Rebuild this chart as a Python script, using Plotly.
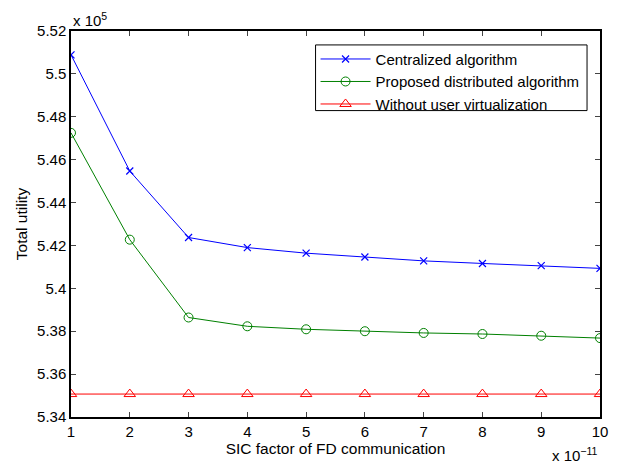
import plotly.graph_objects as go

x_vals = [1, 2, 3, 4, 5, 6, 7, 8, 9, 10]
centralized = [5.5089, 5.4547, 5.4237, 5.4190, 5.4164, 5.4146, 5.4128, 5.4116, 5.4106, 5.4093]
distributed = [5.4725, 5.4227, 5.3864, 5.3823, 5.3809, 5.3800, 5.3792, 5.3787, 5.3779, 5.3768]
without_virt = [5.3507] * 10
names = ["Centralized algorithm", "Proposed distributed algorithm", "Without user virtualization"]
y_ticks = [5.34, 5.36, 5.38, 5.40, 5.42, 5.44, 5.46, 5.48, 5.50, 5.52]
y_tick_text = ["5.34", "5.36", "5.38", "5.4", "5.42", "5.44", "5.46", "5.48", "5.5", "5.52"]

FONT = "Liberation Sans, Arial, Helvetica, sans-serif"

fig = go.Figure()
fig.add_trace(go.Scatter(x=x_vals, y=centralized, name=names[0], mode="lines+markers",
                         line=dict(color="#0000FF", width=1),
                         marker=dict(symbol="x-thin-open", size=7, line=dict(color="#0000FF", width=1.2))))
fig.add_trace(go.Scatter(x=x_vals, y=distributed, name=names[1], mode="lines+markers",
                         line=dict(color="#008000", width=1),
                         marker=dict(symbol="circle-open", size=9, color="#008000", line=dict(width=1))))
fig.add_trace(go.Scatter(x=x_vals, y=without_virt, name=names[2], mode="lines+markers",
                         line=dict(color="#FF0000", width=1),
                         marker=dict(symbol="triangle-up-open", size=10, color="#FF0000", line=dict(width=1))))

# page body has an 8px default margin, so the figure is made 8px smaller and margins shifted
fig.update_layout(
    width=614, height=458,
    margin=dict(l=62, r=22, t=23, b=47),
    paper_bgcolor="white", plot_bgcolor="white",
    font=dict(family=FONT, size=15, color="black"),
    showlegend=True,
    legend=dict(x=0.4623, y=0.8686, xanchor="left", yanchor="middle",
                borderwidth=0, bgcolor="rgba(0,0,0,0)",
                font=dict(size=15, family=FONT), tracegroupgap=0,
                itemwidth=50),
    xaxis=dict(range=[1, 10], tickvals=x_vals, ticks="inside", ticklen=5,
               showline=True, linecolor="black", linewidth=1.5, mirror="ticks",
               showgrid=False, zeroline=False, tickfont=dict(size=15),
               title=dict(text="SIC factor of FD communication", font=dict(size=15.5), standoff=3)),
    yaxis=dict(range=[5.34, 5.52], tickvals=y_ticks, ticktext=y_tick_text, ticks="inside", ticklen=5,
               showline=True, linecolor="black", linewidth=1.5, mirror="ticks",
               showgrid=False, zeroline=False, tickfont=dict(size=15),
               title=dict(text="Total utility", font=dict(size=15.5), standoff=6)),
)

# legend frame
fig.add_shape(type="rect", xref="paper", yref="paper", x0=0.4623, x1=0.9755, y0=0.7938, y1=0.9639,
              line=dict(color="black", width=1), fillcolor="white", layer="above")

fig.add_annotation(text="x 10<sup>5</sup>", xref="paper", yref="paper", x=0.0, y=1.0,
                   xanchor="left", yanchor="bottom", showarrow=False, font=dict(size=15))
fig.add_annotation(text="x 10<sup>−11</sup>", xref="paper", yref="paper", x=1.0, y=0.0,
                   xanchor="right", yanchor="top", showarrow=False, font=dict(size=15), yshift=-26)

fig.write_html("out.html")
